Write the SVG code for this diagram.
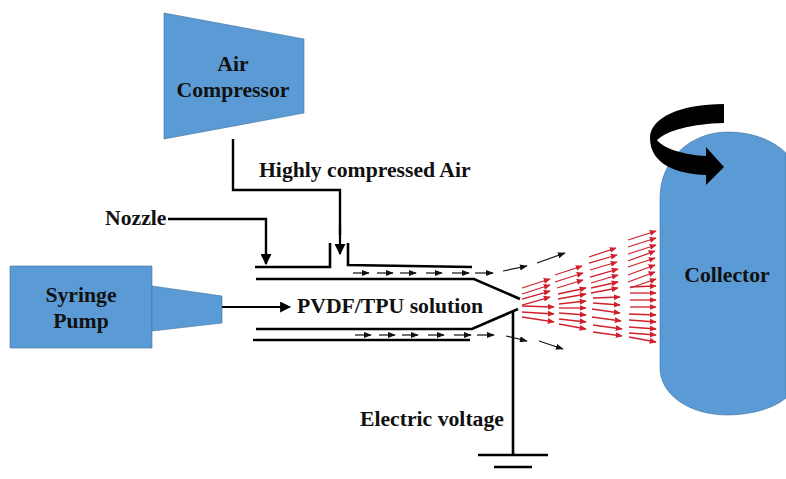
<svg xmlns="http://www.w3.org/2000/svg" width="786" height="479" viewBox="0 0 786 479">
<style>
.shape{fill:#5b9bd5;stroke:#41719c;stroke-width:.6}
text{font-family:"Liberation Serif","Times New Roman",serif;font-weight:bold;font-size:21.7px;fill:#111}
.l{fill:none;stroke:#000;stroke-width:2.6}
.a{fill:none;stroke:#000;stroke-width:2.2;marker-end:url(#big)}
.s{fill:none;stroke:#111;stroke-width:1.2;marker-end:url(#small)}
.r{fill:none;stroke:#d0202c;stroke-width:1.3;marker-end:url(#red)}
</style>
<defs>
<marker id="big" viewBox="0 0 10 10" refX="9" refY="5" markerUnits="userSpaceOnUse" markerWidth="11" markerHeight="11" orient="auto" preserveAspectRatio="none"><path d="M0 0L10 5L0 10Z" fill="#000"/></marker>
<marker id="small" viewBox="0 0 10 10" refX="9" refY="5" markerUnits="userSpaceOnUse" markerWidth="8" markerHeight="6" orient="auto" preserveAspectRatio="none"><path d="M0 0L10 5L0 10Z" fill="#111"/></marker>
<marker id="red" viewBox="0 0 10 10" refX="9" refY="5" markerUnits="userSpaceOnUse" markerWidth="7" markerHeight="6" orient="auto" preserveAspectRatio="none"><path d="M0 0L10 5L0 10Z" fill="#d0202c"/></marker>
</defs>
<g id="air-compressor">
<path class="shape" d="M164 13L304 39V113L164 139Z"/>
<text x="233" y="71" text-anchor="middle">Air</text>
<text x="233" y="97" text-anchor="middle">Compressor</text>
</g>
<g id="syringe-pump">
<path class="shape" d="M10 266H152V348H10Z"/>
<path class="shape" d="M152 286L222 296V323L152 331Z"/>
<text x="81" y="302" text-anchor="middle">Syringe</text>
<text x="81" y="328" text-anchor="middle">Pump</text>
</g>
<g id="collector">
<path class="shape" d="M660 198C660 160 690 132 728 132C752 132 773 140 786 153V398C773 409 750 415 727 415C690 415 660 395 660 368Z"/>
<text x="727" y="282" text-anchor="middle">Collector</text>
</g>
<g id="rotation-arrow">
<path fill="#000" d="M724 104V123C692 124 668 130 657 140C664 149 685 155 706 156V147L724 167L706 185V175C678 174 650 165 650 138C650 118 680 104 724 104Z"/>
</g>
<g id="nozzle">
<path class="l" d="M255 267H330V243"/>
<path class="l" d="M348 243V265L472 267"/>
<path class="l" d="M256 279H474L520 299"/>
<path class="l" d="M256 329H472L518 309"/>
<path class="l" d="M253 340H470"/>
</g>
<g id="connectors">
<path class="l" d="M233 139V190H340V235" style="stroke-width:2.4"/>
<path class="a" d="M340 225V254"/>
<path class="a" d="M168 219H266V264" style="stroke-width:2.4"/>
<path class="a" d="M222 307H290"/>
<path class="l" d="M513 310V455"/>
<path class="l" d="M478 455H548"/>
<path class="l" d="M494 467H532"/>
<path class="s" d="M353 273H369"/><path class="s" d="M377 273H393"/><path class="s" d="M400 273H416"/><path class="s" d="M426 273H442"/><path class="s" d="M452 273H469"/><path class="s" d="M475 273H493"/>
<path class="s" d="M355 335H371"/><path class="s" d="M379 335H395"/><path class="s" d="M402 335H418"/><path class="s" d="M428 335H444"/><path class="s" d="M454 335H471"/><path class="s" d="M477 335H494"/>
<path class="s" d="M503 271L527 266"/><path class="s" d="M537 263L565 253"/>
<path class="s" d="M506 336L527 341"/><path class="s" d="M539 341L563 349"/>
</g>
<g id="spray">
<path class="r" d="M522 288L550 279"/><path class="r" d="M522 294L550 285"/><path class="r" d="M522 299L550 291"/><path class="r" d="M522 305L550 297"/><path class="r" d="M522 306L554 307"/><path class="r" d="M522 312L554 314"/><path class="r" d="M522 317L554 322"/>
<path class="r" d="M555 275L582 266"/><path class="r" d="M555 282L583 273"/><path class="r" d="M557 288L583 280"/><path class="r" d="M558 294L586 288"/><path class="r" d="M558 299L586 294"/><path class="r" d="M559 304L586 301"/><path class="r" d="M559 308L586 308"/><path class="r" d="M559 313L586 315"/><path class="r" d="M559 319L586 322"/><path class="r" d="M559 324L586 329"/>
<path class="r" d="M589 257L616 248"/><path class="r" d="M589 263L617 255"/><path class="r" d="M590 270L617 262"/><path class="r" d="M590 277L618 269"/><path class="r" d="M591 283L618 275"/><path class="r" d="M591 288L618 282"/><path class="r" d="M591 293L618 288"/><path class="r" d="M593 298L620 297"/><path class="r" d="M593 303L620 305"/><path class="r" d="M592 309L620 313"/><path class="r" d="M592 317L621 321"/><path class="r" d="M593 325L622 329"/><path class="r" d="M593 332L622 336"/>
<path class="r" d="M628 240L656 231"/><path class="r" d="M628 247L656 238"/><path class="r" d="M628 254L656 245"/><path class="r" d="M628 261L655 251"/><path class="r" d="M628 267L655 258"/><path class="r" d="M628 275L655 265"/><path class="r" d="M628 282L655 272"/><path class="r" d="M630 288L656 279"/><path class="r" d="M630 287L656 286"/><path class="r" d="M630 293L656 293"/><path class="r" d="M630 300L656 300"/><path class="r" d="M630 307L656 307"/><path class="r" d="M629 314L656 315"/><path class="r" d="M629 320L656 322"/><path class="r" d="M629 327L656 329"/><path class="r" d="M629 333L656 335"/><path class="r" d="M629 337L656 342"/>
</g>
<g id="labels">
<text x="259" y="177">Highly compressed Air</text>
<text x="105" y="225">Nozzle</text>
<text x="297" y="313">PVDF/TPU solution</text>
<text x="360" y="426">Electric voltage</text>
</g>
</svg>
